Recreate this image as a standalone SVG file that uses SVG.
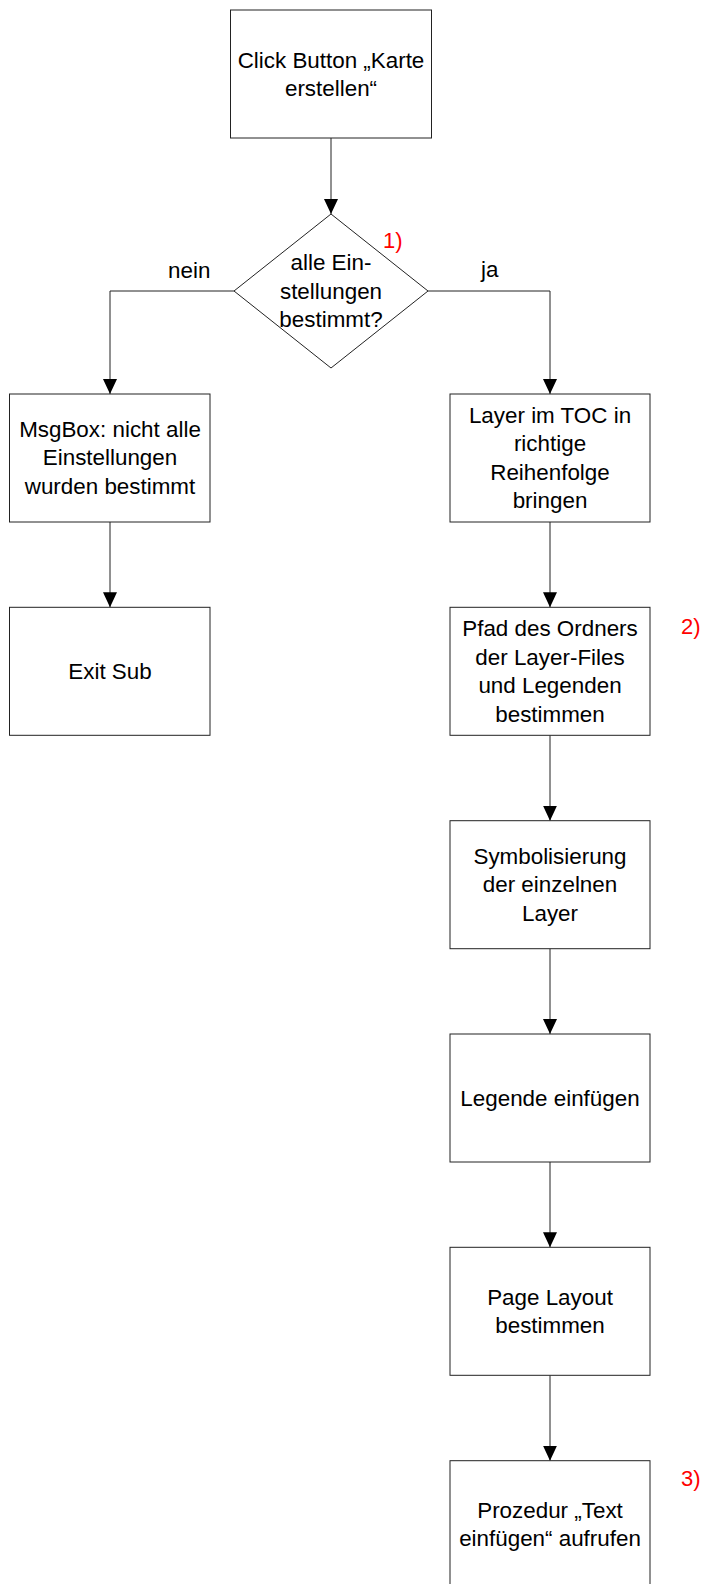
<svg xmlns="http://www.w3.org/2000/svg" width="705" height="1584" viewBox="0 0 705 1584">
<style>
.box{fill:#fff;stroke:#222;stroke-width:1}
.t{font-family:"Liberation Sans",Arial,sans-serif;font-size:22.4px;fill:#000;text-anchor:middle}
.lbl{font-family:"Liberation Sans",Arial,sans-serif;font-size:22.4px;fill:#000}
.red{font-family:"Liberation Sans",Arial,sans-serif;font-size:22px;fill:#ff0000}
.c{fill:none;stroke:#222;stroke-width:1}
</style>
<defs>
<marker id="ah" markerUnits="userSpaceOnUse" markerWidth="15" markerHeight="14" refX="15" refY="7" orient="auto">
<path d="M0,0 L15,7 L0,14 z" fill="#000"/>
</marker>
</defs>
<rect width="705" height="1584" fill="#fff"/>
<g id="connectors">
<path class="c" d="M331,138 V214" marker-end="url(#ah)"/>
<path class="c" d="M234,291 H110 V394" marker-end="url(#ah)"/>
<path class="c" d="M428,291 H550 V394" marker-end="url(#ah)"/>
<path class="c" d="M110,522 V607.3" marker-end="url(#ah)"/>
<path class="c" d="M550,522 V607.3" marker-end="url(#ah)"/>
<path class="c" d="M550,735.3 V820.7" marker-end="url(#ah)"/>
<path class="c" d="M550,948.7 V1034" marker-end="url(#ah)"/>
<path class="c" d="M550,1162 V1247.3" marker-end="url(#ah)"/>
<path class="c" d="M550,1375.3 V1460.7" marker-end="url(#ah)"/>
<text class="lbl" x="168" y="278">nein</text>
<text class="lbl" x="481" y="277">ja</text>
</g>
<g id="start">
<rect class="box" x="230.5" y="10" width="201" height="128"/>
<text class="t" x="331" y="67.5">Click Button „Karte</text>
<text class="t" x="331" y="96">erstellen“</text>
</g>
<g id="decision">
<polygon class="box" points="331,214 428,291 331,368 234,291"/>
<text class="t" x="331" y="270">alle Ein-</text>
<text class="t" x="331" y="298.5">stellungen</text>
<text class="t" x="331" y="327">bestimmt?</text>
<text class="red" x="383" y="248">1)</text>
</g>
<g id="msgbox">
<rect class="box" x="9.5" y="394" width="200.5" height="128"/>
<text class="t" x="110" y="436.5">MsgBox: nicht alle</text>
<text class="t" x="110" y="465">Einstellungen</text>
<text class="t" x="110" y="493.5">wurden bestimmt</text>
</g>
<g id="exitsub">
<rect class="box" x="9.5" y="607.3" width="200.5" height="128"/>
<text class="t" x="110" y="679">Exit Sub</text>
</g>
<g id="layer-toc">
<rect class="box" x="450" y="394" width="200" height="128"/>
<text class="t" x="550" y="422.6">Layer im TOC in</text>
<text class="t" x="550" y="451.2">richtige</text>
<text class="t" x="550" y="479.8">Reihenfolge</text>
<text class="t" x="550" y="508.4">bringen</text>
</g>
<g id="pfad">
<rect class="box" x="450" y="607.3" width="200" height="128"/>
<text class="t" x="550" y="635.9">Pfad des Ordners</text>
<text class="t" x="550" y="664.5">der Layer-Files</text>
<text class="t" x="550" y="693.1">und Legenden</text>
<text class="t" x="550" y="721.7">bestimmen</text>
<text class="red" x="681" y="634">2)</text>
</g>
<g id="symbolisierung">
<rect class="box" x="450" y="820.7" width="200" height="128"/>
<text class="t" x="550" y="863.6">Symbolisierung</text>
<text class="t" x="550" y="892.2">der einzelnen</text>
<text class="t" x="550" y="920.8">Layer</text>
</g>
<g id="legende">
<rect class="box" x="450" y="1034" width="200" height="128"/>
<text class="t" x="550" y="1105.5">Legende einfügen</text>
</g>
<g id="pagelayout">
<rect class="box" x="450" y="1247.3" width="200" height="128"/>
<text class="t" x="550" y="1304.5">Page Layout</text>
<text class="t" x="550" y="1333.1">bestimmen</text>
</g>
<g id="prozedur">
<rect class="box" x="450" y="1460.7" width="200" height="128"/>
<text class="t" x="550" y="1517.5">Prozedur „Text</text>
<text class="t" x="550" y="1546.1">einfügen“ aufrufen</text>
<text class="red" x="681" y="1486">3)</text>
</g>
</svg>
